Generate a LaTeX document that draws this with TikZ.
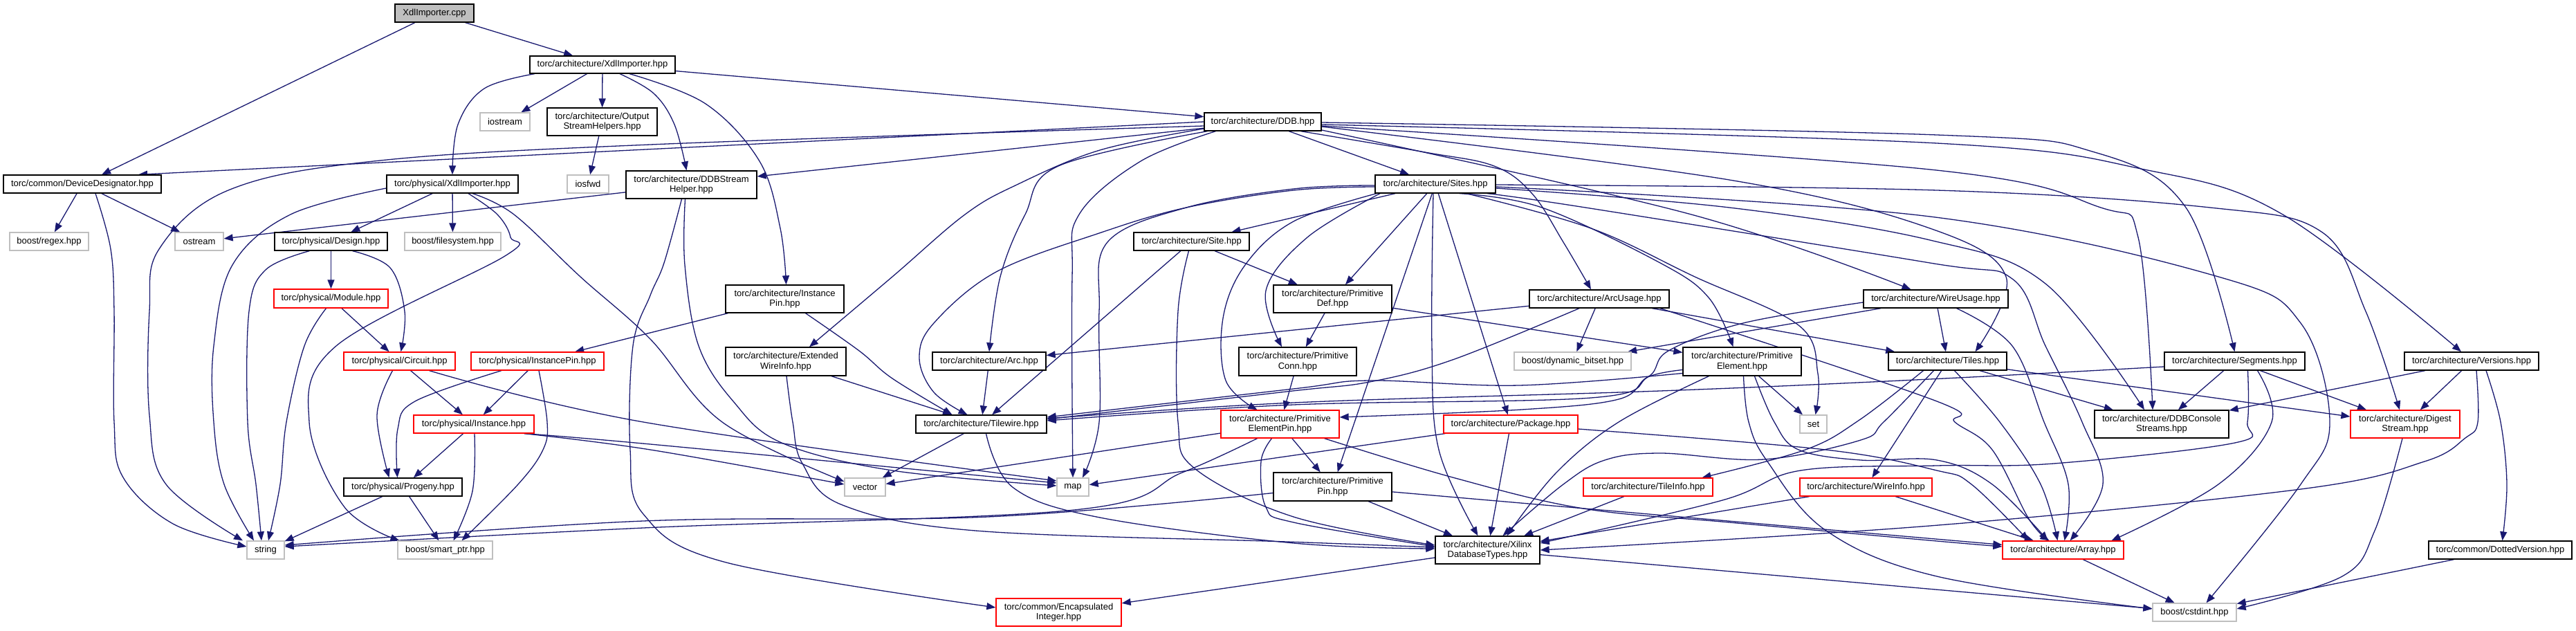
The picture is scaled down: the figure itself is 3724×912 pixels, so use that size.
\documentclass[tikz,border=0pt]{standalone}
\usepackage{fontspec}
\setmainfont{Liberation Sans}
\usetikzlibrary{arrows.meta}
\definecolor{edgec}{HTML}{191970}
\definecolor{grayb}{HTML}{BFBFBF}
\definecolor{redb}{HTML}{FF0000}
\pgfdeclarelayer{bg}
\pgfsetlayers{bg,main}
\tikzset{
 nb/.style={draw=black, line width=1.3pt, fill=white, rectangle, inner sep=0pt, align=center, font=\fontsize{13}{14.5}\selectfont},
 sysn/.style={nb, draw=grayb},
 redn/.style={nb, draw=redb},
 rootn/.style={nb, fill=grayb},
 e/.style={draw=edgec, line width=1.3pt, -{Triangle[length=13pt,width=10pt]}},
 sm/.style={smooth, tension=0.6}
}
\newcommand{\bx}[6]{\node[#1, minimum width=#4pt, minimum height=#5pt] (#2) at (#3) {#6};}
\begin{document}
\begin{tikzpicture}[x=1pt,y=-1pt]
\useasboundingbox (0,0) rectangle (3724,912);
% nodes
\bx{rootn}{cpp}{628,19}{114}{26}{XdlImporter.cpp}
\bx{nb}{archXdl}{871,93.5}{210}{25}{torc/architecture/XdlImporter.hpp}
\bx{sysn}{iostream}{730,176}{72}{26}{iostream}
\bx{nb}{osh}{870.5,176}{159}{40}{torc/architecture/Output\\StreamHelpers.hpp}
\bx{nb}{devdes}{119,266}{228}{26}{torc/common/DeviceDesignator.hpp}
\bx{nb}{physXdl}{654,266}{190}{26}{torc/physical/XdlImporter.hpp}
\bx{sysn}{iosfwd}{850,266}{60}{26}{iosfwd}
\bx{nb}{ddbsh}{999.5,267}{189}{40}{torc/architecture/DDBStream\\Helper.hpp}
\bx{nb}{ddb}{1825.5,176}{169}{26}{torc/architecture/DDB.hpp}
\bx{nb}{sites}{2075,266}{174}{26}{torc/architecture/Sites.hpp}
\bx{sysn}{regex}{71,349}{114}{26}{boost/regex.hpp}
\bx{sysn}{ostream}{288,349}{70}{26}{ostream}
\bx{nb}{design}{478.5,349}{163}{26}{torc/physical/Design.hpp}
\bx{sysn}{filesystem}{654.5,349}{139}{26}{boost/filesystem.hpp}
\bx{redn}{module}{478.5,431.5}{165}{27}{torc/physical/Module.hpp}
\bx{redn}{circuit}{577.5,522}{161}{26}{torc/physical/Circuit.hpp}
\bx{redn}{pinst}{777,522}{192}{26}{torc/physical/InstancePin.hpp}
\bx{redn}{instance}{685,613}{174}{26}{torc/physical/Instance.hpp}
\bx{nb}{progeny}{582.5,704}{171}{26}{torc/physical/Progeny.hpp}
\bx{sysn}{string}{384,795}{54}{26}{string}
\bx{sysn}{smartptr}{643.5,795}{137}{26}{boost/smart\_ptr.hpp}
\bx{nb}{ainst}{1134.5,432}{171}{40}{torc/architecture/Instance\\Pin.hpp}
\bx{nb}{ewi}{1136,522.5}{174}{41}{torc/architecture/Extended\\WireInfo.hpp}
\bx{nb}{arc}{1430,522}{164}{26}{torc/architecture/Arc.hpp}
\bx{nb}{site}{1722.5,349}{167}{26}{torc/architecture/Site.hpp}
\bx{nb}{pdef}{1926.5,432}{171}{40}{torc/architecture/Primitive\\Def.hpp}
\bx{nb}{pconn}{1876,522.5}{170}{41}{torc/architecture/Primitive\\Conn.hpp}
\bx{nb}{tilewire}{1418.5,613}{189}{26}{torc/architecture/Tilewire.hpp}
\bx{redn}{pep}{1850.5,613}{171}{40}{torc/architecture/Primitive\\ElementPin.hpp}
\bx{nb}{arcusage}{2312,432}{202}{26}{torc/architecture/ArcUsage.hpp}
\bx{nb}{wireusage}{2798.5,432}{209}{26}{torc/architecture/WireUsage.hpp}
\bx{sysn}{dynbitset}{2273.5,522}{169}{26}{boost/dynamic\_bitset.hpp}
\bx{nb}{pelem}{2518.5,522.5}{171}{41}{torc/architecture/Primitive\\Element.hpp}
\bx{nb}{tiles}{2815.5,522}{171}{26}{torc/architecture/Tiles.hpp}
\bx{redn}{package}{2184,613}{194}{26}{torc/architecture/Package.hpp}
\bx{sysn}{set}{2621.5,613}{39}{26}{set}
\bx{nb}{segments}{3230.5,522}{203}{26}{torc/architecture/Segments.hpp}
\bx{nb}{versions}{3573,522}{194}{26}{torc/architecture/Versions.hpp}
\bx{nb}{ddbcs}{3125,613}{194}{40}{torc/architecture/DDBConsole\\Streams.hpp}
\bx{redn}{digest}{3477,613}{158}{40}{torc/architecture/Digest\\Stream.hpp}
\bx{nb}{ppin}{1926.5,703.5}{171}{41}{torc/architecture/Primitive\\Pin.hpp}
\bx{nb}{xilinx}{2150.5,795}{151}{40}{torc/architecture/Xilinx\\DatabaseTypes.hpp}
\bx{redn}{tileinfo}{2382.5,704}{187}{26}{torc/architecture/TileInfo.hpp}
\bx{redn}{wireinfo}{2697.5,704}{191}{26}{torc/architecture/WireInfo.hpp}
\bx{redn}{array}{2982.5,795}{175}{26}{torc/architecture/Array.hpp}
\bx{sysn}{cstdint}{3172.5,885}{121}{26}{boost/cstdint.hpp}
\bx{nb}{dotted}{3614.5,795}{207}{26}{torc/common/DottedVersion.hpp}
\bx{sysn}{vector}{1250.5,704}{59}{26}{vector}
\bx{sysn}{map}{1551,704}{46}{26}{map}
\bx{redn}{encap}{1530.5,885}{181}{40}{torc/common/Encapsulated\\Integer.hpp}
% edges
\begin{pgfonlayer}{bg}
% straight
\draw[e] (cpp) -- (devdes);
\draw[e] (cpp) -- (archXdl);
\draw[e] (archXdl) -- (iostream);
\draw[e] (archXdl) -- (osh);
\draw[e] (archXdl) -- (ddb);
\draw[e] (osh) -- (iosfwd);
\draw[e] (devdes) -- (regex);
\draw[e] (devdes) -- (ostream);
\draw[e] (ddbsh) -- (ostream);
\draw[e] (physXdl) -- (design);
\draw[e] (physXdl) -- (filesystem);
\draw[e] (design) -- (module);
\draw[e] (module) -- (circuit);
\draw[e] (circuit) -- (instance);
\draw[e] (pinst) -- (instance);
\draw[e] (instance) -- (progeny);
\draw[e] (progeny) -- (string);
\draw[e] (progeny) -- (smartptr);
\draw[e] (ainst) -- (pinst);
\draw[e] (ewi) -- (tilewire);
\draw[e] (arc) -- (tilewire);
\draw[e] (site) -- (tilewire);
\draw[e] (site) -- (pdef);
\draw[e] (sites) -- (site);
\draw[e] (sites) -- (pdef);
\draw[e] (sites) -- (ppin);
\draw[e] (sites) -- (package);
\draw[e] (pdef) -- (pconn);
\draw[e] (pdef) -- (pelem);
\draw[e] (pconn) -- (pep);
\draw[e] (pep) -- (ppin);
\draw[e] (pep) -- (vector);
\draw[e] (ppin) -- (xilinx);
\draw[e] (ppin) -- (array);
\draw[e] (package) -- (map);
\draw[e] (package) -- (xilinx);
\draw[e] (arcusage) -- (arc);
\draw[e] (arcusage) -- (dynbitset);
\draw[e] (arcusage) -- (tiles);
\draw[e] (wireusage) -- (dynbitset);
\draw[e] (wireusage) -- (tiles);
\draw[e] (pelem) -- (set);
\draw[e] (tiles) -- (ddbcs);
\draw[e] (tiles) -- (digest);
\draw[e] (tiles) -- (wireinfo);
\draw[e] (segments) -- (ddbcs);
\draw[e] (segments) -- (digest);
\draw[e] (versions) -- (ddbcs);
\draw[e] (versions) -- (digest);
\draw[e] (dotted) -- (cstdint);
\draw[e] (array) -- (cstdint);
\draw[e] (xilinx) -- (cstdint);
\draw[e] (xilinx) -- (encap);
\draw[e] (tileinfo) -- (xilinx);
\draw[e] (wireinfo) -- (xilinx);
\draw[e] (wireinfo) -- (array);
\draw[e] (tilewire) -- (vector);
\draw[e] (ddb) -- (sites);
\draw[e] (ddb) -- ([yshift=12pt]ddbsh.east);
\draw[e] (ddb.west) -- ([xshift=81pt]devdes.north);
% curved
\draw[e] plot[sm] coordinates {([xshift=-98pt]archXdl.south) (700,128) (662,180) (physXdl.north)};
\draw[e] plot[sm] coordinates {([xshift=25pt]archXdl.south) (945,135) (975,180) ([xshift=-7pt]ddbsh.north)};
\draw[e] plot[sm] coordinates {([xshift=39pt]archXdl.south) (1020,150) (1098,233) (1128,330) ([xshift=2pt]ainst.north)};
\draw[e] plot[sm] coordinates {([yshift=-6pt]ddb.west) (940,209) (540,233) (330,275) (230,360) (216,450) (216,600) (240,700) ([xshift=-33pt]string.north)};
\draw[e] plot[sm] coordinates {([xshift=19pt]devdes.south) (160,360) (165,450) (165,610) (178,690) (250,757) ([yshift=5pt]string.west)};
\draw[e] plot[sm] coordinates {([yshift=-6pt]physXdl.west) (420,310) (336,383) (309,500) (309,610) (324,700) ([xshift=-17pt]string.north)};
\draw[e] plot[sm] coordinates {([xshift=-31pt]design.south) (384,390) (360,450) (358,610) (370,700) ([xshift=-6pt]string.north)};
\draw[e] plot[sm] coordinates {([xshift=-7pt]module.south) (440,500) (414,610) (405,700) ([xshift=4pt]string.north)};
\draw[e] plot[sm] coordinates {([xshift=-33pt]pep.south) (1709,683) (1553,737) (930,763) ([yshift=5pt]string.east)};
\draw[e] plot[sm] coordinates {([yshift=-9pt]ppin.west) (1428,747) (930,753) ([yshift=7pt]string.east)};
\draw[e] plot[sm] coordinates {([xshift=23pt]physXdl.south) (719,310) (738,343) (730,370) (486,500) (447,610) (498,733) ([xshift=-66pt]smartptr.north)};
\draw[e] plot[sm] coordinates {([xshift=29pt]physXdl.south) (743,310) (839,400) (940,490) (1044,610) ([yshift=8pt]vector.west)};
\draw[e] plot[sm] coordinates {([xshift=-9pt]ddbsh.south) (990,383) (1010,500) (1060,580) (1130,640) (1290,680) ([yshift=2pt]map.west)};
\draw[e] plot[sm] coordinates {([xshift=-14pt]ddbsh.south) (960,380) (940,427) (915,500) (911,650) (930,743) (1050,813) ([yshift=7pt]encap.west)};
\draw[e] plot[sm] coordinates {([yshift=-10pt]ddb.west) (1590,217) (1470,267) (1395,310) (1290,400) ([xshift=34pt]ewi.north)};
\draw[e] plot[sm] coordinates {([xshift=-80pt]ddb.south) (1530,240) (1482,310) (1446,400) (arc.north)};
\draw[e] plot[sm] coordinates {([xshift=-68pt]ddb.south) (1649,233) (1560,310) (1550,400) (map.north)};
\draw[e] plot[sm] coordinates {([xshift=55pt]ddb.south) (2060,220) (2160,240) (2215,280) (2260,350) ([xshift=-12pt]arcusage.north)};
\draw[e] plot[sm] coordinates {([yshift=-12pt]ddb.east) (2445,310) ([xshift=-36pt]wireusage.north)};
\draw[e] plot[sm] coordinates {([yshift=-7pt]ddb.east) (2500,260) (2790,330) (2900,400) ([xshift=40pt]tiles.north)};
\draw[e] plot[sm] coordinates {([yshift=-1pt]ddb.east) (2800,195) (3028,220) (3160,300) (segments.north)};
\draw[e] plot[sm] coordinates {([yshift=-4pt]ddb.east) (2800,207) (3100,245) (3300,310) ([xshift=-15pt]versions.north)};
\draw[e] plot[sm] coordinates {([yshift=-6pt]ddb.east) (2790,245) (3037,300) (3091,343) ([xshift=-13pt]ddbcs.north)};
\draw[e] plot[sm] coordinates {([xshift=-80pt]sites.south) (1890,343) (1830,420) ([xshift=-23pt]pconn.north)};
\draw[e] plot[sm] coordinates {([xshift=-85pt]sites.south) (1870,320) (1800,383) (1768,460) (1772,550) ([xshift=-33pt]pep.north)};
\draw[e] plot[sm] coordinates {([xshift=-3pt]sites.south) (2070,500) (2080,650) ([xshift=-14pt]xilinx.north)};
\draw[e] plot[sm] coordinates {([xshift=45pt]sites.south) (2300,330) (2450,400) (2600,470) (2628,540) ([xshift=3pt]set.north)};
\draw[e] plot[sm] coordinates {([xshift=35pt]sites.south) (2229,300) (2400,380) (2470,430) ([xshift=-13pt]pelem.north)};
\draw[e] plot[sm] coordinates {([yshift=-4pt]sites.west) (1870,275) (1715,300) (1589,337) (1440,393) (1350,467) (1329,517) (1350,567) ([xshift=-20pt]tilewire.north)};
\draw[e] plot[sm] coordinates {([yshift=-2pt]sites.west) (1870,273) (1715,300) (1601,350) (1589,450) (1589,610) ([xshift=14pt]map.north)};
\draw[e] plot[sm] coordinates {([yshift=-1pt]sites.east) (2800,275) (3195,300) (3356,335) (3420,450) ([xshift=-8pt]digest.north)};
\draw[e] plot[sm] coordinates {([xshift=75pt]sites.south) (2292,300) (2790,380) (2909,403) (2957,500) (3010,610) (3040,700) ([xshift=10pt]array.north)};
\draw[e] plot[sm] coordinates {([yshift=-4pt]sites.east) (2790,313) (3207,400) (3326,467) (3368,610) (3326,700) ([xshift=17pt]cstdint.north)};
\draw[e] plot[sm] coordinates {([yshift=-6pt]sites.east) (2500,300) (2790,347) (2957,410) ([xshift=-25pt]ddbcs.north)};
\draw[e] plot[sm] coordinates {([xshift=-4pt]site.south) (1703,450) (1703,610) (1727,677) (1870,747) ([yshift=7pt]xilinx.west)};
\draw[e] plot[sm] coordinates {([xshift=-12pt]pep.south) (1823,667) (1830,733) (1870,755) ([yshift=5pt]xilinx.west)};
\draw[e] plot[sm] coordinates {([xshift=64pt]pep.south) (2100,690) (2289,735) (2500,755) (2800,782) ([yshift=5pt]array.west)};
\draw[e] plot[sm] coordinates {([yshift=-12pt]pelem.west) (2382,545) (2340,577) (2200,592) ([yshift=10pt]pep.east)};
\draw[e] plot[sm] coordinates {([yshift=-17pt]pelem.west) (2196,557) (1980,550) (1870,562) ([yshift=10pt]tilewire.east)};
\draw[e] plot[sm] coordinates {([xshift=-29pt]arcusage.south) (2100,520) (1980,552) (1860,566) ([yshift=7pt]tilewire.east)};
\draw[e] plot[sm] coordinates {([yshift=-5pt]wireusage.west) (2520,467) (2412,507) (2382,545) (2300,575) (1870,585) ([yshift=5pt]tilewire.east)};
\draw[e] plot[sm] coordinates {([yshift=-8pt]segments.west) (2790,548) (2400,565) (1870,582) ([yshift=8pt]tilewire.east)};
\draw[e] plot[sm] coordinates {([xshift=-48pt]pelem.south) (2340,610) (2250,683) ([xshift=28pt]xilinx.north)};
\draw[e] plot[sm] coordinates {([xshift=18pt]pelem.south) (2565,610) (2600,650) (2690,665) (2800,665) (2880,700) ([xshift=-22pt]array.north)};
\draw[e] plot[sm] coordinates {([xshift=2pt]pelem.south) (2528,610) (2555,667) (2640,767) (2800,833) ([yshift=5pt]cstdint.west)};
\draw[e] plot[sm] coordinates {([yshift=-7pt]package.east) (2639,650) (2800,680) (2850,700) ([xshift=-50pt]array.north)};
\draw[e] plot[sm] coordinates {([xshift=88pt]arcusage.south) (2800,580) (2826,610) (2880,650) (2933,750) ([xshift=-20pt]array.north)};
\draw[e] plot[sm] coordinates {([xshift=30pt]wireusage.south) (2909,500) (2955,610) (2990,700) ([xshift=2pt]array.north)};
\draw[e] plot[sm] coordinates {([xshift=-35pt]tiles.south) (2688,607) (2610,650) ([xshift=78pt]tileinfo.north)};
\draw[e] plot[sm] coordinates {([xshift=10pt]tiles.south) (2891,610) (2950,700) ([xshift=-8pt]array.north)};
\draw[e] plot[sm] coordinates {([xshift=-20pt]tiles.south) (2723,610) (2690,636) (2550,664) (2400,655) (2320,665) (2260,700) ([xshift=22pt]xilinx.north)};
\draw[e] plot[sm] coordinates {([xshift=33pt]segments.south) (3284,610) (3207,700) ([xshift=70pt]array.north)};
\draw[e] plot[sm] coordinates {([xshift=19pt]segments.south) (3249,610) (3231,640) (2969,670) (2800,673) (2603,680) (2490,723) ([yshift=10pt]xilinx.east)};
\draw[e] plot[sm] coordinates {([xshift=21pt]versions.south) (3615,610) (3624,700) ([xshift=3pt]dotted.north)};
\draw[e] plot[sm] coordinates {([xshift=7pt]versions.south) (3582,610) (3564,633) (3505,667) (3326,707) (2790,760) (xilinx.east)};
\draw[e] plot[sm] coordinates {([xshift=-4pt]digest.south) (3433,767) (3386,833) ([yshift=5pt]cstdint.east)};
\draw[e] plot[sm] coordinates {([xshift=43pt]circuit.south) (930,610) ([yshift=9pt]map.west)};
\draw[e] plot[sm] coordinates {([xshift=73pt]instance.south) (940,650) ([yshift=4pt]vector.west)};
\draw[e] plot[sm] coordinates {([xshift=73pt]instance.south) (940,642) ([yshift=6pt]map.west)};
\draw[e] plot[sm] coordinates {([xshift=-10pt]circuit.south) (545,600) ([xshift=-20pt]progeny.north)};
\draw[e] plot[sm] coordinates {([xshift=-52pt]pinst.south) (600,580) (575,620) ([xshift=-8pt]progeny.north)};
\draw[e] plot[sm] coordinates {([xshift=2pt]pinst.south) (791,610) (785,650) (749,700) ([xshift=24pt]smartptr.north)};
\draw[e] plot[sm] coordinates {([xshift=1pt]instance.south) (683,710) ([xshift=12pt]smartptr.north)};
\draw[e] plot[sm] coordinates {([xshift=31pt]design.south) (564,387) (585,450) ([xshift=2pt]circuit.north)};
\draw[e] plot[sm] coordinates {([xshift=30pt]ainst.south) (1242,507) (1290,547) ([xshift=-42pt]tilewire.north)};
\draw[e] plot[sm] coordinates {([xshift=1pt]ewi.south) (1146,610) (1160,670) (1218,730) (1410,767) (1860,783) ([yshift=4pt]xilinx.west)};
\draw[e] plot[sm] coordinates {([xshift=7pt]tilewire.south) (1465,705) (1590,748) (1870,785) ([yshift=2pt]xilinx.west)};
\end{pgfonlayer}
\end{tikzpicture}
\end{document}
